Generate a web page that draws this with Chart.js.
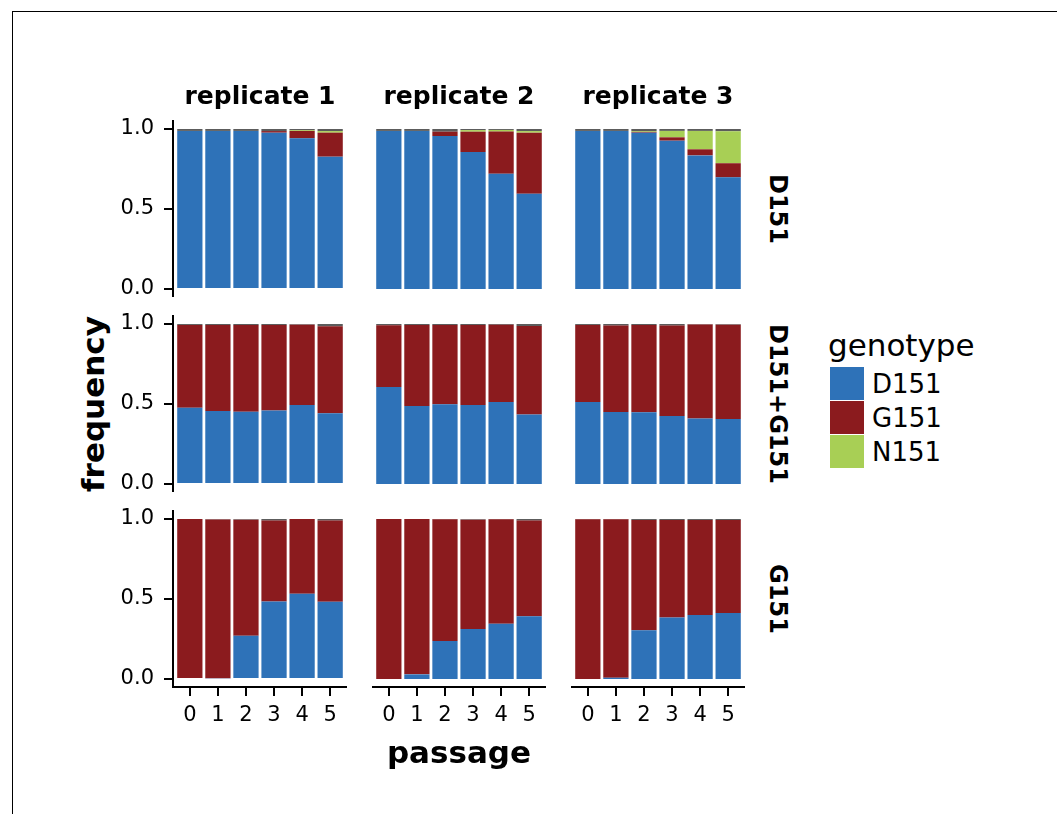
<!DOCTYPE html>
<html>
<head>
<meta charset="utf-8">
<script src="https://cdn.jsdelivr.net/npm/chart.js@4"></script>
<style>
  body { margin: 0; background: #fff; width: 1057px; height: 814px; position: relative; overflow: hidden; font-family: "DejaVu Sans", sans-serif; color: #000; }
  .frame { position: absolute; left: 12px; top: 11px; width: 1100px; height: 900px; border-top: 1px solid #000; border-left: 1px solid #000; }
  .panel { position: absolute; }
  .lbl { position: absolute; white-space: nowrap; line-height: 1; }
</style>
</head>
<body>
<div class="frame"></div>
<script>
// facets and categories
const passages = [0, 1, 2, 3, 4, 5];
const replicates = ["replicate 1", "replicate 2", "replicate 3"];
const inocula = ["D151", "D151+G151", "G151"];
const genotypes = ["D151", "G151", "N151"];
const yTicks = [0, 0.5, 1];

// frequencies [inoculum][replicate][passage]
const freqD151 = [
  [[0.988, 0.988, 0.988, 0.977, 0.942, 0.827], [0.988, 0.988, 0.956, 0.856, 0.721, 0.596], [0.988, 0.988, 0.977, 0.927, 0.835, 0.698]],
  [[0.477, 0.456, 0.452, 0.460, 0.494, 0.442], [0.606, 0.488, 0.498, 0.494, 0.513, 0.435], [0.513, 0.450, 0.448, 0.425, 0.410, 0.406]],
  [[0.000, 0.005, 0.271, 0.485, 0.533, 0.483], [0.000, 0.029, 0.238, 0.313, 0.346, 0.392], [0.000, 0.008, 0.304, 0.385, 0.400, 0.413]]
];
const freqG151 = [
  [[0, 0, 0, 0.010, 0.046, 0.150], [0, 0, 0.027, 0.127, 0.263, 0.381], [0, 0, 0.005, 0.021, 0.038, 0.088]],
  [[0.517, 0.537, 0.541, 0.533, 0.502, 0.544], [0.386, 0.505, 0.495, 0.499, 0.482, 0.552], [0.481, 0.540, 0.545, 0.565, 0.587, 0.590]],
  [[1.000, 0.992, 0.725, 0.505, 0.467, 0.507], [1.000, 0.971, 0.760, 0.683, 0.652, 0.598], [0.998, 0.990, 0.690, 0.608, 0.594, 0.580]]
];
const freqN151 = [
  [[0, 0, 0, 0, 0.005, 0.010], [0, 0, 0, 0.010, 0.010, 0.010], [0, 0, 0.005, 0.040, 0.115, 0.200]],
  [[0, 0, 0, 0, 0, 0], [0, 0, 0, 0, 0, 0], [0, 0, 0, 0, 0, 0]],
  [[0, 0, 0, 0, 0, 0], [0, 0, 0, 0, 0, 0], [0, 0, 0, 0, 0, 0]]
];
// small remainder not in legend
const freqOther = [
  [[0.012, 0.012, 0.012, 0.013, 0.007, 0.013], [0.012, 0.012, 0.017, 0.007, 0.006, 0.013], [0.012, 0.012, 0.013, 0.012, 0.012, 0.014]],
  [[0.006, 0.007, 0.007, 0.007, 0.004, 0.014], [0.008, 0.007, 0.007, 0.007, 0.005, 0.013], [0.006, 0.010, 0.007, 0.010, 0.003, 0.004]],
  [[0, 0.003, 0.004, 0.010, 0, 0.010], [0, 0, 0.002, 0.004, 0.002, 0.010], [0.002, 0.002, 0.006, 0.007, 0.006, 0.007]]
];

const colors = ["#2E72B8", "#8B1B1E", "#A8CF55"];
const otherColor = "#5C5C5C";

const FONT = "'DejaVu Sans', sans-serif";
const PANEL_LEFT = [173, 372, 571];
const PANEL_TOP = [121, 316, 511];
const PANEL_W = 174;
const PANEL_H = 176;
const Y_AXIS_W = 62;
const X_AXIS_H = 52;
const TOP_PAD = 14;
const TICK_LEN = 9;

const addLabel = (text, css) => {
  const d = document.createElement("div");
  d.className = "lbl";
  d.textContent = text;
  Object.assign(d.style, css);
  document.body.appendChild(d);
  return d;
};

// outward tick marks, placed with the scales' own pixel mapping
const tickMarks = {
  id: "tickMarks",
  afterDatasetsDraw(chart) {
    const ctx = chart.ctx;
    const area = chart.chartArea;
    const xs = chart.scales.x;
    const ys = chart.scales.y;
    ctx.save();
    ctx.fillStyle = "#000";
    if (xs && xs.options.display) {
      passages.forEach((v) => {
        const px = Math.round(xs.getPixelForValue(v));
        ctx.fillRect(px - 1, area.bottom, 2, TICK_LEN);
      });
    }
    if (ys && ys.options.display) {
      yTicks.forEach((v) => {
        const py = Math.round(ys.getPixelForValue(v));
        ctx.fillRect(area.left - TICK_LEN, py - 1, TICK_LEN, 2);
      });
    }
    ctx.restore();
  },
};
Chart.register(tickMarks);

const toPoints = (vals) => passages.map((p, i) => ({ x: p, y: vals[i] }));

const pintarPanel = (r, c) => {
  const showY = c === 0;
  const showX = r === 2;
  const w = PANEL_W + (showY ? Y_AXIS_W : 0);
  const h = PANEL_H + TOP_PAD + (showX ? X_AXIS_H : 0);
  const box = document.createElement("div");
  box.className = "panel";
  Object.assign(box.style, {
    left: PANEL_LEFT[c] - (showY ? Y_AXIS_W : 0) + "px",
    top: PANEL_TOP[r] - TOP_PAD + "px",
    width: w + "px",
    height: h + "px",
  });
  const canvas = document.createElement("canvas");
  box.appendChild(canvas);
  document.body.appendChild(box);

  const series = [freqD151, freqG151, freqN151];
  const datasets = genotypes.map((g, k) => ({
    label: g,
    data: toPoints(series[k][r][c]),
    backgroundColor: colors[k],
    borderWidth: 0,
    barPercentage: 0.9,
    categoryPercentage: 1.0,
  }));
  datasets.push({
    label: "other",
    data: toPoints(freqOther[r][c]),
    backgroundColor: otherColor,
    borderWidth: 0,
    barPercentage: 0.9,
    categoryPercentage: 1.0,
  });

  new Chart(canvas, {
    type: "bar",
    data: { datasets },
    options: {
      responsive: true,
      maintainAspectRatio: false,
      animation: false,
      layout: { padding: { top: TOP_PAD, left: 0, right: 0, bottom: 0 } },
      plugins: { legend: { display: false }, tooltip: { enabled: false } },
      scales: {
        x: {
          type: "linear",
          stacked: true,
          min: -0.6,
          max: 5.6,
          offset: false,
          display: showX,
          afterBuildTicks: (s) => { s.ticks = passages.map((v) => ({ value: v })); },
          afterFit: (s) => {
            s.paddingLeft = 0;
            s.paddingRight = 0;
            if (showX) s.height = X_AXIS_H;
          },
          ticks: { callback: (v) => String(v), color: "#000", font: { family: FONT, size: 21 }, padding: 7, maxRotation: 0, autoSkip: false },
          grid: { display: true, offset: false, drawOnChartArea: false, drawTicks: true, tickLength: TICK_LEN, color: "#000", lineWidth: 2 },
          border: { display: true, color: "#000", width: 2 },
        },
        y: {
          stacked: true,
          min: -0.05,
          max: 1.05,
          display: showY,
          afterBuildTicks: (s) => { s.ticks = yTicks.map((v) => ({ value: v })); },
          afterFit: (s) => {
            s.paddingTop = 0;
            s.paddingBottom = 0;
            if (showY) s.width = Y_AXIS_W;
          },
          ticks: { callback: (v) => v.toFixed(1), color: "#000", font: { family: FONT, size: 21 }, padding: 10 },
          grid: { display: true, offset: false, drawOnChartArea: false, drawTicks: true, tickLength: TICK_LEN, color: "#000", lineWidth: 2 },
          border: { display: true, color: "#000", width: 2 },
        },
      },
    },
  });
};

for (let r = 0; r < 3; r++) {
  for (let c = 0; c < 3; c++) pintarPanel(r, c);
}

// facet strips
replicates.forEach((t, c) => {
  addLabel(t, { left: PANEL_LEFT[c] + PANEL_W / 2 + "px", top: "95px", transform: "translate(-50%,-50%)", fontSize: "25px", fontWeight: "bold" });
});
inocula.forEach((t, r) => {
  addLabel(t, { left: "778px", top: PANEL_TOP[r] + PANEL_H / 2 + "px", transform: "translate(-50%,-50%)", writingMode: "vertical-rl", fontSize: "24px", fontWeight: "bold" });
});

// axis titles
addLabel("frequency", { left: "93px", top: "404px", transform: "translate(-50%,-50%) rotate(-90deg)", fontSize: "31px", fontWeight: "bold" });
addLabel("passage", { left: "459px", top: "752px", transform: "translate(-50%,-50%)", fontSize: "31px", fontWeight: "bold" });

// legend
addLabel("genotype", { left: "828px", top: "345px", transform: "translateY(-50%)", fontSize: "31px" });
genotypes.forEach((g, k) => {
  const key = document.createElement("div");
  Object.assign(key.style, { position: "absolute", left: "830px", top: 367 + k * 34 + "px", width: "34px", height: "33px", background: colors[k] });
  document.body.appendChild(key);
  addLabel(g, { left: "872px", top: 367 + k * 34 + 17 + "px", transform: "translateY(-50%)", fontSize: "26px" });
});
</script>
</body>
</html>
